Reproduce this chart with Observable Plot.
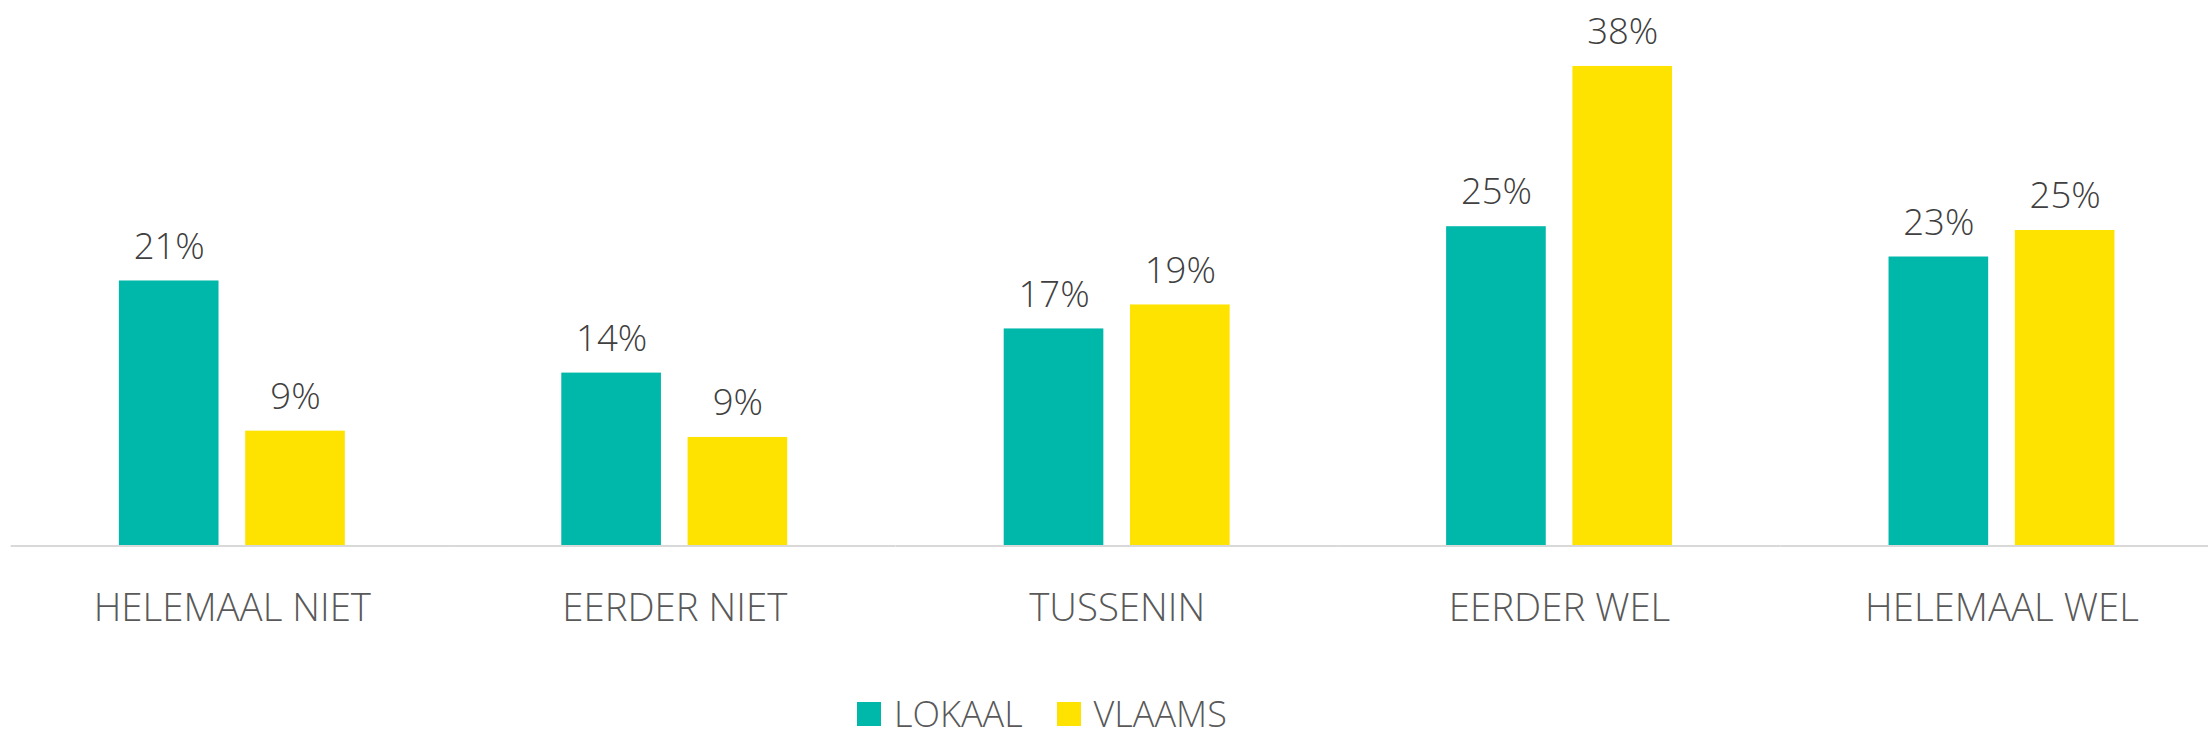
<!DOCTYPE html>
<html>
<head>
<meta charset="utf-8">
<script src="https://cdn.jsdelivr.net/npm/d3@7"></script>
<script src="https://cdn.jsdelivr.net/npm/@observablehq/plot@0.6"></script>
<style>
  html, body { margin: 0; padding: 0; background: #fff; overflow: hidden; }
  #legend .leg-swatch > svg { margin-right: 13px; }
  #legend .leg-swatch { margin-right: 34px; }
</style>
</head>
<body>
<div id="chart"></div>
<div id="legend"></div>
<script>
const categories = ["HELEMAAL NIET", "EERDER NIET", "TUSSENIN", "EERDER WEL", "HELEMAAL WEL"];
const series = ["LOKAAL", "VLAAMS"];
const lokaal = [21.0, 13.7, 17.2, 25.3, 22.9];
const vlaams = [9.1, 8.6, 19.1, 38.0, 25.0];
const colors = ["#00B8AA", "#FFE300"];

const table = categories.flatMap((c, i) => [
  {category: c, series: series[0], value: lokaal[i]},
  {category: c, series: series[1], value: vlaams[i]}
]);

const font = "'Open Sans', 'Liberation Sans', sans-serif";

const chart = Plot.plot({
  width: 2208,
  height: 700,
  marginTop: 40.7,
  marginBottom: 154.5,
  marginLeft: 0,
  marginRight: 0,
  facet: {marginTop: 0, marginRight: 0, marginBottom: 0, marginLeft: 0},
  style: {fontFamily: font, fontSize: "38.4px", fontWeight: 300, color: "#595959", background: "white"},
  fx: {domain: categories, range: [10.65, 2222.7], padding: 0, round: false, label: null, axis: "bottom", tickSize: 0, tickPadding: 48},
  x: {domain: series, paddingInner: 0.211, paddingOuter: 0.857, round: false, axis: null},
  y: {domain: [0, 40], axis: null},
  color: {domain: series, range: colors},
  marks: [
    Plot.barY(table, {fx: "category", x: "series", y: "value", fill: "series"}),
    Plot.ruleY([0], {stroke: "#D9D9D9", strokeWidth: 2}),
    Plot.text(table, {
      fx: "category", x: "series", y: "value",
      text: d => Math.round(d.value) + "%",
      lineAnchor: "bottom", dy: -22.3,
      fill: "#404040", fontSize: 36.5
    })
  ]
});
document.getElementById("chart").appendChild(chart);

const legend = Plot.legend({
  color: {domain: series, range: colors},
  legend: "swatches",
  swatchSize: 24,
  className: "leg",
  style: {fontFamily: font, fontSize: "36px", fontWeight: 300, color: "#595959", marginLeft: "857px", marginBottom: "0", minHeight: "28px", lineHeight: "28px"}
});
document.getElementById("legend").appendChild(legend);
</script>
</body>
</html>
